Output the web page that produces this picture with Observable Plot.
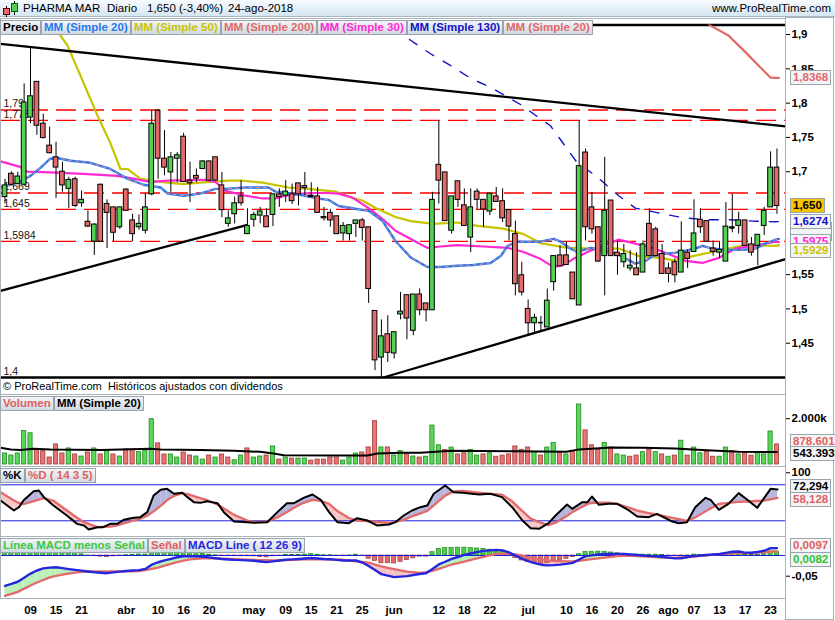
<!DOCTYPE html>
<html lang="es"><head><meta charset="utf-8"><title>PHARMA MAR</title>
<script src="https://cdn.jsdelivr.net/npm/d3@7"></script>
<script src="https://cdn.jsdelivr.net/npm/@observablehq/plot@0.6"></script>
<style>
html,body{margin:0;padding:0;background:#fff;}
#root{position:relative;width:835px;height:620px;overflow:hidden;background:#fff;font-family:"Liberation Sans",Arial,sans-serif;color:#000;}
#root svg{position:absolute;left:0;}
.hdr{position:absolute;left:0;top:0;width:835px;height:17px;background:linear-gradient(#f7fbfe,#d4e6f2);border-bottom:1px solid #a9b6c0;box-sizing:border-box;}
.ht{position:absolute;top:2px;font-size:11.5px;line-height:13px;white-space:pre;color:#000;}
.lg{position:absolute;height:15px;line-height:13px;font-weight:bold;font-size:11.5px;padding:0 2px;background:linear-gradient(#f2f5f8,#d2dae2);border:1px solid #9aa4ad;box-sizing:border-box;white-space:nowrap;}
.vb{position:absolute;left:790px;height:15px;line-height:13px;font-weight:bold;font-size:11.5px;padding:0 2px;background:#f3f4f5;border:1px solid #9aa4ad;box-sizing:border-box;white-space:nowrap;}
.frame{position:absolute;border:1px solid #a9b1b9;box-sizing:border-box;pointer-events:none;}
.cap{position:absolute;left:3px;top:380px;font-size:11px;white-space:pre;}
</style></head>
<body><div id="root"></div>
<script>
// ---------------- DATA ----------------
// trading days 5-mar-2018 .. 24-ago-2018, index 0..121
const open = [
1.663,1.697,1.682,1.681,1.779,1.831,1.770,1.738,1.721,1.700,
1.675,1.689,1.654,1.627,1.598,1.681,1.653,1.648,1.619,1.674,
1.629,1.619,1.614,1.667,1.789,1.719,1.699,1.719,1.751,1.687,
1.694,1.704,1.715,1.721,1.680,1.624,1.638,1.664,1.609,1.630,
1.636,1.635,1.637,1.667,1.665,1.667,1.683,1.679,1.665,1.664,
1.634,1.640,1.635,1.610,1.609,1.624,1.629,1.619,1.497,1.429,
1.463,1.435,1.492,1.520,1.468,1.521,1.508,1.498,1.710,1.699,
1.614,1.686,1.651,1.604,1.671,1.659,1.642,1.664,1.657,1.644,
1.609,1.549,1.500,1.479,1.480,1.473,1.539,1.578,1.578,1.553,
1.505,1.728,1.648,1.619,1.577,1.658,1.582,1.568,1.559,1.559,
1.553,1.624,1.616,1.580,1.559,1.568,1.553,1.582,1.583,1.630,
1.628,1.588,1.582,1.569,1.619,1.621,1.629,1.594,1.592,1.621,
1.648,1.706];
const high = [
1.689,1.700,1.699,1.828,1.881,1.831,1.784,1.765,1.743,1.714,
1.692,1.692,1.672,1.643,1.624,1.682,1.659,1.648,1.648,1.675,
1.638,1.637,1.668,1.789,1.790,1.760,1.728,1.728,1.756,1.714,
1.704,1.716,1.716,1.721,1.699,1.643,1.663,1.687,1.646,1.641,
1.648,1.646,1.667,1.675,1.687,1.682,1.683,1.699,1.684,1.677,
1.648,1.645,1.635,1.626,1.622,1.629,1.632,1.619,1.497,1.484,
1.490,1.466,1.524,1.520,1.521,1.529,1.508,1.670,1.774,1.699,
1.664,1.686,1.675,1.675,1.675,1.659,1.668,1.677,1.675,1.644,
1.628,1.568,1.513,1.492,1.489,1.529,1.577,1.592,1.598,1.553,
1.774,1.733,1.670,1.619,1.721,1.658,1.599,1.594,1.585,1.582,
1.599,1.646,1.619,1.594,1.567,1.573,1.627,1.586,1.659,1.646,
1.628,1.599,1.597,1.655,1.667,1.641,1.629,1.604,1.608,1.648,
1.729,1.733];
const low = [
1.653,1.680,1.681,1.679,1.770,1.753,1.748,1.726,1.661,1.670,
1.646,1.648,1.648,1.619,1.578,1.597,1.588,1.598,1.616,1.642,
1.598,1.615,1.609,1.665,1.689,1.694,1.670,1.684,1.684,1.655,
1.684,1.703,1.686,1.686,1.633,1.619,1.624,1.650,1.609,1.619,
1.624,1.619,1.620,1.648,1.655,1.652,1.650,1.665,1.664,1.640,
1.628,1.619,1.609,1.599,1.599,1.604,1.599,1.508,1.410,1.400,
1.422,1.427,1.484,1.455,1.461,1.490,1.481,1.498,1.653,1.628,
1.609,1.648,1.621,1.582,1.645,1.619,1.636,1.655,1.626,1.599,
1.519,1.519,1.461,1.465,1.468,1.473,1.526,1.562,1.564,1.514,
1.505,1.599,1.609,1.568,1.519,1.577,1.549,1.560,1.555,1.549,
1.553,1.577,1.577,1.551,1.538,1.538,1.553,1.559,1.583,1.610,
1.598,1.577,1.573,1.569,1.611,1.609,1.592,1.577,1.563,1.607,
1.648,1.638];
const close = [
1.680,1.681,1.693,1.801,1.810,1.767,1.749,1.727,1.706,1.680,
1.688,1.650,1.659,1.620,1.623,1.598,1.640,1.611,1.648,1.643,
1.609,1.624,1.648,1.770,1.719,1.706,1.721,1.724,1.685,1.683,
1.690,1.715,1.687,1.687,1.644,1.632,1.654,1.654,1.621,1.637,
1.642,1.619,1.667,1.663,1.671,1.657,1.667,1.676,1.664,1.640,
1.632,1.629,1.609,1.621,1.622,1.629,1.618,1.529,1.425,1.460,
1.436,1.466,1.496,1.486,1.521,1.498,1.498,1.659,1.687,1.628,
1.664,1.659,1.621,1.648,1.659,1.645,1.668,1.656,1.632,1.620,
1.536,1.524,1.479,1.487,1.480,1.512,1.577,1.562,1.564,1.514,
1.708,1.619,1.616,1.569,1.643,1.577,1.577,1.580,1.563,1.549,
1.594,1.577,1.577,1.551,1.551,1.549,1.585,1.573,1.610,1.619,
1.598,1.583,1.586,1.620,1.618,1.629,1.592,1.582,1.608,1.643,
1.706,1.650];
// volume in thousands of shares
const volume = [
481,393,481,1466,1363,657,584,305,878,481,
702,437,349,525,702,437,584,437,349,657,
657,540,584,1980,922,437,437,305,525,393,
349,216,393,305,437,305,187,393,702,305,
349,393,790,216,305,260,260,260,172,216,
216,305,305,172,305,481,525,746,1892,746,
746,393,584,437,349,305,340,1700,840,640,
740,440,490,640,390,440,490,340,390,440,
790,640,740,540,390,740,940,540,440,590,
2620,1490,840,640,940,740,440,390,340,390,
540,640,540,440,340,390,1040,390,740,490,
540,340,340,740,590,440,540,390,540,440,
1440,878.601];
const volMaDay = [-0.7,0.9,2.4,4.5,7.1,15,22.8,24.4,30.6,35.9,40,42.1,43.7,51.5,56.8,58.4,62,65.1,70,80,88,90,95,100,105,110,115,121];
const volMa    = [730,657,628,687,657,628,687,657,628,599,555,481,408,393,393,481,510,510,600,580,560,660,740,730,700,620,560,543.393];

// moving averages of price (sampled where read)
const ma20Day = [-0.7,2,4,5.6,7.1,8.2,10.3,13.4,16.5,19.2,21.7,24.4,25.5,28,30.6,33,34.6,37.7,41.3,42.4,45.1,47.1,49.1,50.7,52.3,54.9,57,59.2,61.2,63.6,66.2,68.3,70.9,73.4,76.1,77.7,78.8,80.3,83.9,86,87.1,88.6,89.7,91.8,93.7,96.2,98.8,100.4,101.5,103.1,105.1,106.7,108.2,109.3,110.9,112.9,115.6,117.6,119.2,120.8,121.3];
const ma20 = [1.677,1.684,1.694,1.706,1.719,1.720,1.716,1.713,1.704,1.690,1.681,1.677,1.668,1.665,1.668,1.675,1.675,1.677,1.677,1.671,1.668,1.665,1.661,1.659,1.650,1.646,1.643,1.628,1.599,1.575,1.561,1.561,1.563,1.564,1.567,1.577,1.592,1.598,1.598,1.602,1.598,1.588,1.583,1.589,1.585,1.579,1.566,1.570,1.577,1.580,1.582,1.585,1.588,1.592,1.588,1.586,1.586,1.588,1.595,1.601,1.602];
const ma30Day = [-0.7,2.4,3.5,7.1,12.3,17.6,20.1,22.8,25.5,30.6,31.4,33,34.6,37.7,40.4,42.4,44,46.6,48.2,50.7,52.3,54.5,57,59.2,61.2,63.6,66.2,68.3,70.9,75,78.8,81.3,83.9,86,87.5,89.1,91.8,93.7,96.2,98.8,101.5,104,106.7,109.3,111.8,114.5,117.2,120.8,121.3];
const ma30 = [1.715,1.707,1.700,1.699,1.697,1.694,1.690,1.685,1.687,1.688,1.688,1.685,1.672,1.665,1.661,1.661,1.665,1.668,1.669,1.669,1.668,1.662,1.647,1.631,1.614,1.602,1.589,1.591,1.593,1.591,1.589,1.583,1.573,1.561,1.564,1.573,1.585,1.592,1.601,1.595,1.589,1.580,1.570,1.567,1.574,1.588,1.592,1.598,1.5975];
const ma50Day = [7.6,8.7,9.8,14.5,16.5,18.1,19.2,21.2,22.8,25.5,28,30.6,35,37.2,40.4,44.4,47.6,51.8,53.4,56,58.1,61.2,63.6,67.2,70.9,74.1,78.1,81.3,83.9,88.2,91.8,96.2,99.3,103.1,105.1,107.8,110.9,113.4,116.1,120.8,121.3];
const ma50 = [1.925,1.8985,1.884,1.782,1.742,1.704,1.704,1.690,1.687,1.684,1.682,1.684,1.687,1.687,1.684,1.677,1.675,1.671,1.665,1.658,1.647,1.634,1.628,1.624,1.626,1.621,1.617,1.609,1.596,1.589,1.588,1.588,1.577,1.574,1.570,1.577,1.583,1.588,1.593,1.592,1.5929];
const ma130Day = [61.5,62.5,66.7,69.8,73,76.1,78.4,80.8,83.2,85.5,89.7,92.6,96.2,98.8,102.4,106.2,109.8,113.4,117.2,120.8,121.3];
const ma130 = [1.915,1.8985,1.872,1.855,1.836,1.823,1.811,1.798,1.782,1.767,1.713,1.694,1.665,1.647,1.640,1.633,1.630,1.630,1.628,1.627,1.6274];
const ma200Day = [108,110.6,113.4,116.1,118.1,120,121.3];
const ma200 = [1.935,1.913,1.8985,1.874,1.855,1.837,1.8368];

// support / resistance levels and trend lines
const levelValues = [1.79, 1.775, 1.669, 1.645, 1.5984];
const levelLabels = ["1,79", "1,775", "1,669", "1,645", "1,5984"];
const blackLevels = [1.4, 1.9139];
const blackLabels = ["1,4", ""];
const trendStartDay = [-0.705, -0.705, 59.3];
const trendStartPrice = [1.8864, 1.5263, 1.4];
const trendEndDay = [122.34, 38.0, 122.34];
const trendEndPrice = [1.7661, 1.6226, 1.5726];

// stochastic %K / %D (14 3 5)
const stochDay = [-0.7,1.4,2.2,2.9,4.5,5.3,6.1,7.6,9.7,11.3,12.4,13.1,14.5,15.4,16.5,17.6,18.6,20.2,21.2,22.3,23.3,24.4,25.4,26.5,27.8,28.6,29.6,30.6,31.7,33.3,34.3,35.9,38,39,41.1,42.7,44.2,45.3,46.8,48.2,49.5,50.8,52.1,53.9,55.2,56.8,58.3,60.2,61.2,62.5,63.8,65.1,66.2,67.2,69,70.3,71.7,74.3,76.1,77.9,79.5,81.1,82.4,83.7,85.2,86.3,88.1,88.9,90.5,91.3,92,93.1,94.6,96,97.8,99.1,100.9,102.2,104.6,105.6,106.9,108.2,109.8,110.6,111.9,113.4,115,116.3,117.9,118.9,120,121.1];
const stochK = [53.8,37.2,42.7,53.8,69.4,70.5,59.4,45.5,28.8,14.9,12.2,5.5,9.4,9.4,14.9,14.9,21.6,25,26.1,34.4,62.2,71.6,73.3,65,66.6,59.4,51.1,49.9,52.7,49.4,34.4,18.8,17.7,16.6,17.7,34.4,49.4,49.4,58.3,63.8,54.9,34.4,17.7,16,24.4,20.5,12.2,13.8,17.7,28.8,37.2,42.7,45.5,65,78.8,67.7,66.6,63.8,65,59.4,42.7,20.5,7.7,6.6,16,28.8,47.2,39.9,51.1,51.1,60.5,46.6,48.3,48.3,37.2,27.2,26.1,31.6,18.8,16,17.7,42.7,58.3,54.9,38.3,48.3,66.1,55.5,41.6,56.6,73.3,72.294];
const stochD = [67.7,53.8,49.7,47.8,52.7,55.2,57.7,53.4,37.2,25.0,17.7,14.9,9.4,9.8,10.2,12.2,15.6,20.5,23.3,28.6,35.7,44.9,54.6,61.5,65.9,64.5,61.1,57.8,54.3,47.1,40.5,29.9,20.4,17.7,18.6,25.5,34.8,41.9,50.0,54.8,53.2,48.3,36.2,24.7,20.3,19.6,18.1,16.5,18.1,21.6,27.5,32.5,36.5,45.7,62.0,68.9,69.9,67.1,64.8,63.5,52.5,36.1,23.7,17.9,12.9,16.9,28.5,34.4,43.6,48.2,49.7,50.4,50.2,47.8,42.2,36.9,32.8,30.1,25.0,22.8,20.0,25.7,35.7,40.5,48.3,49.9,51.4,52.2,53.1,53.6,55.6,58.128];
const stochBands = [80, 20];

// MACD (12 26 9), daily
const macd = [
-0.0733,-0.0686,-0.0634,-0.0535,-0.0436,-0.0362,-0.0311,-0.0294,-0.0284,-0.0306,
-0.0328,-0.0347,-0.0366,-0.0386,-0.0404,-0.0415,-0.0427,-0.0408,-0.0389,-0.0376,
-0.0364,-0.0354,-0.0326,-0.0222,-0.0163,-0.0116,-0.0081,-0.0043,-0.0022,-0.0018,
-0.0020,-0.0032,-0.0046,-0.0065,-0.0083,-0.0095,-0.0106,-0.0112,-0.0118,-0.0128,
-0.0144,-0.0160,-0.0141,-0.0120,-0.0102,-0.0093,-0.0084,-0.0072,-0.0061,-0.0071,
-0.0084,-0.0089,-0.0105,-0.0120,-0.0121,-0.0121,-0.0170,-0.0252,-0.0353,-0.0450,
-0.0487,-0.0522,-0.0510,-0.0499,-0.0472,-0.0446,-0.0430,-0.0328,-0.0216,-0.0151,
-0.0081,-0.0036,0.0014,0.0049,0.0080,0.0111,0.0123,0.0136,0.0125,0.0076,
0.0000,-0.0076,-0.0138,-0.0185,-0.0222,-0.0239,-0.0233,-0.0221,-0.0203,-0.0177,
-0.0097,-0.0016,0.0003,0.0027,0.0040,0.0040,0.0040,0.0036,0.0024,0.0011,
-0.0001,-0.0010,-0.0020,-0.0035,-0.0052,-0.0070,-0.0066,-0.0038,-0.0010,0.0001,
0.0013,0.0024,0.0036,0.0063,0.0090,0.0096,0.0069,0.0067,0.0089,0.0115,
0.0177,0.0179];
const signal = [
-0.0974,-0.0928,-0.0878,-0.0800,-0.0723,-0.0653,-0.0591,-0.0529,-0.0495,-0.0464,
-0.0437,-0.0416,-0.0395,-0.0387,-0.0387,-0.0387,-0.0387,-0.0387,-0.0387,-0.0384,
-0.0382,-0.0379,-0.0350,-0.0325,-0.0293,-0.0246,-0.0200,-0.0160,-0.0126,-0.0092,
-0.0080,-0.0071,-0.0066,-0.0071,-0.0077,-0.0082,-0.0087,-0.0093,-0.0099,-0.0105,
-0.0110,-0.0115,-0.0121,-0.0116,-0.0111,-0.0105,-0.0099,-0.0095,-0.0092,-0.0090,
-0.0091,-0.0095,-0.0099,-0.0103,-0.0124,-0.0141,-0.0155,-0.0174,-0.0218,-0.0262,
-0.0301,-0.0330,-0.0358,-0.0387,-0.0403,-0.0418,-0.0403,-0.0374,-0.0323,-0.0271,
-0.0218,-0.0186,-0.0147,-0.0108,-0.0070,-0.0032,0.0006,0.0040,0.0040,0.0040,
0.0028,-0.0003,-0.0037,-0.0068,-0.0094,-0.0120,-0.0129,-0.0136,-0.0142,-0.0143,
-0.0128,-0.0104,-0.0087,-0.0068,-0.0050,-0.0033,-0.0014,-0.0006,0.0000,-0.0012,
-0.0021,-0.0031,-0.0040,-0.0045,-0.0050,-0.0055,-0.0047,-0.0040,-0.0032,-0.0010,
0.0005,0.0022,0.0032,0.0043,0.0053,0.0056,0.0056,0.0056,0.0069,0.0083,
0.0097,0.0097];
const hist = [
0.0241,0.0242,0.0244,0.0265,0.0287,0.0291,0.0280,0.0235,0.0211,0.0158,
0.0109,0.0069,0.0029,0.0001,-0.0017,-0.0028,-0.0040,-0.0021,-0.0002,0.0008,
0.0018,0.0025,0.0024,0.0103,0.0130,0.0130,0.0119,0.0117,0.0104,0.0074,
0.0060,0.0039,0.0020,0.0006,-0.0006,-0.0013,-0.0019,-0.0019,-0.0019,-0.0023,
-0.0034,-0.0045,-0.0020,-0.0004,0.0009,0.0012,0.0015,0.0023,0.0031,0.0019,
0.0007,0.0006,-0.0006,-0.0017,0.0003,0.0020,-0.0015,-0.0078,-0.0135,-0.0188,
-0.0186,-0.0192,-0.0152,-0.0112,-0.0069,-0.0028,-0.0027,0.0080,0.0160,0.0180,
0.0180,0.0190,0.0190,0.0180,0.0170,0.0160,0.0140,0.0120,0.0090,0.0020,
-0.0060,-0.0120,-0.0160,-0.0190,-0.0200,-0.0180,-0.0150,-0.0110,-0.0080,-0.0040,
0.0031,0.0088,0.0090,0.0095,0.0090,0.0073,0.0054,0.0042,0.0024,0.0023,
0.0020,0.0021,0.0020,0.0010,-0.0002,-0.0015,-0.0019,0.0002,0.0022,0.0011,
0.0008,0.0002,0.0004,0.0020,0.0037,0.0040,0.0013,0.0011,0.0020,0.0032,
0.0080,0.0082];

// axes
const tickIdx = [4,8,12,19,24,28,32,39,44,48,52,56,61,68,72,76,82,88,92,96,100,104,108,112,116,120];
const tickLab = ["09","15","21","abr","10","16","20","may","09","15","21","25","jun","12","18","22","jul","10","16","20","26","ago","07","13","17","23"];
const priceTicks = [1.45,1.5,1.55,1.7,1.75,1.8,1.85,1.9];
const volTicks = [2000];
const stochTicks = [100];
const macdTicks = [-0.05];

// ---------------- DRAWING ----------------
const root = document.getElementById("root");
const FONT = '"Liberation Sans", Arial, sans-serif';
const W = 835, MR = 50;
const X = {domain: [-0.705, 122.34]};
const style = {background: "transparent", overflow: "visible", fontFamily: FONT, fontSize: "11.5px", fontWeight: "bold", color: "#000"};
const GREEN = "#52d152", RED = "#e46a6a";
const comma = (v, n) => v.toFixed(n).replace(".", ",");
const pts = (xs, ys) => xs.map((x, j) => ({x, y: ys[j]}));
const days = d3.range(open.length);
const candles = days.map(i => ({i, o: open[i], h: high[i], l: low[i], c: close[i]}));
const last = a => a[a.length - 1];

function diffSegs(xs, a, b) {
  const out = [];
  let z = 0;
  for (let j = 0; j < xs.length - 1; j++) {
    const x0 = xs[j], x1 = xs[j + 1], a0 = a[j], a1 = a[j + 1], b0 = b[j], b1 = b[j + 1];
    const d0 = a0 - b0, d1 = a1 - b1;
    if (d0 * d1 < 0) {
      const t = d0 / (d0 - d1), xm = x0 + t * (x1 - x0), ym = a0 + t * (a1 - a0);
      out.push({x: x0, a: a0, b: b0, z, pos: d0 > 0}, {x: xm, a: ym, b: ym, z, pos: d0 > 0}); z++;
      out.push({x: xm, a: ym, b: ym, z, pos: d1 > 0}, {x: x1, a: a1, b: b1, z, pos: d1 > 0}); z++;
    } else {
      const p = (d0 + d1) >= 0;
      out.push({x: x0, a: a0, b: b0, z, pos: p}, {x: x1, a: a1, b: b1, z, pos: p}); z++;
    }
  }
  return out;
}

// ---- price panel ----
const trend = trendStartDay.map((d, j) => ({x1: d, y1: trendStartPrice[j], x2: trendEndDay[j], y2: trendEndPrice[j]}));
const priceLab = new Map(priceTicks.map(t => [t, comma(t, Math.round(t * 100) % 10 === 0 ? 1 : 2)]));
const dojis = candles.filter(d => Math.abs(d.c - d.o) < 0.0015);
const price = Plot.plot({
  width: W, height: 360, marginLeft: 0, marginRight: MR, marginTop: 4.5, marginBottom: 3,
  x: {...X, axis: null}, y: {domain: [1.4, 1.9139]}, color: {type: "identity"}, style,
  marks: [
    Plot.ruleY(levelValues, {stroke: "#ff0000", strokeWidth: 1.3, strokeDasharray: "20,8"}),
    Plot.ruleY(blackLevels, {stroke: "#000", strokeWidth: 2.6}),
    Plot.text(levelValues.concat(blackLevels), {y: d => d, text: levelLabels.concat(blackLabels), frameAnchor: "left", textAnchor: "start", dx: 3, dy: -6, fontWeight: "normal", fontSize: 10.5, fill: "#111"}),
    Plot.line(pts(ma200Day, ma200), {x: "x", y: "y", stroke: "#e06868", strokeWidth: 2.2, clip: true}),
    Plot.line(pts(ma130Day, ma130), {x: "x", y: "y", stroke: "#1212c8", strokeWidth: 1.4, strokeDasharray: "9,11", clip: true}),
    Plot.line(pts(ma50Day, ma50), {x: "x", y: "y", stroke: "#c8c400", strokeWidth: 2.2, clip: true}),
    Plot.line(pts(ma30Day, ma30), {x: "x", y: "y", stroke: "#ff28d2", strokeWidth: 2.2, clip: true}),
    Plot.line(pts(ma20Day, ma20), {x: "x", y: "y", stroke: "#2878f0", strokeWidth: 2.4, clip: true}),
    Plot.line(pts(ma20Day, ma20), {x: "x", y: "y", stroke: "#f08a8a", strokeWidth: 1, strokeDasharray: "3,4", clip: true}),
    Plot.link(trend, {x1: "x1", y1: "y1", x2: "x2", y2: "y2", stroke: "#000", strokeWidth: 2.3}),
    Plot.ruleX(candles, {x: "i", y1: "l", y2: "h", stroke: "#000", strokeWidth: 1}),
    Plot.rect(candles, {x1: d => d.i - 0.37, x2: d => d.i + 0.37, y1: "o", y2: "c",
      fill: d => d.c > d.o ? GREEN : d.c < d.o ? RED : "#000", stroke: "#000", strokeWidth: 1}),
    Plot.ruleY(dojis, {y: "c", x1: d => d.i - 0.37, x2: d => d.i + 0.37, stroke: "#000", strokeWidth: 1.6}),
    Plot.axisY({anchor: "right", ticks: priceTicks, tickFormat: t => priceLab.get(t), tickSize: 4, tickPadding: 2, label: null})
  ]
});
price.style.top = "20px";
root.appendChild(price);

// ---- volume panel ----
const volRows = days.map(i => ({i, v: volume[i], up: i === 0 ? close[0] >= open[0] : close[i] >= close[i - 1]}));
const vol = Plot.plot({
  width: W, height: 71, marginLeft: 0, marginRight: MR, marginTop: 0, marginBottom: 2,
  x: {...X, axis: null}, y: {domain: [0, 3013]}, color: {type: "identity"}, style,
  marks: [
    Plot.rect(volRows, {x1: d => d.i - 0.33, x2: d => d.i + 0.33, y1: 0, y2: "v",
      fill: d => d.up ? "#5ad65a" : "#e87474", stroke: d => d.up ? "#1f8a1f" : "#a33a3a", strokeWidth: 0.8}),
    Plot.line(pts(volMaDay, volMa), {x: "x", y: "y", stroke: "#000", strokeWidth: 2}),
    Plot.axisY({anchor: "right", ticks: volTicks, tickFormat: t => (t / 1000).toFixed(3) + "k", tickSize: 4, tickPadding: 2, label: null})
  ]
});
vol.style.top = "395px";
root.appendChild(vol);

// ---- stochastic panel ----
const stRows = stochDay.map((x, j) => ({x, K: stochK[j], D: stochD[j]}));
const stoch = Plot.plot({
  width: W, height: 68, marginLeft: 0, marginRight: MR, marginTop: 5.3, marginBottom: 2.7,
  x: {...X, axis: null}, y: {domain: [0, 100]}, color: {type: "identity"}, style,
  marks: [
    Plot.areaY(diffSegs(stochDay, stochK, stochD), {x: "x", y1: "a", y2: "b", z: "z", fill: d => d.pos ? "#b6b6dd" : "#f6c6c6"}),
    Plot.ruleY(stochBands, {stroke: "#1c1ce0", strokeWidth: 1}),
    Plot.line(stRows, {x: "x", y: "D", stroke: "#e26a6a", strokeWidth: 2.3}),
    Plot.line(stRows, {x: "x", y: "K", stroke: "#000", strokeWidth: 2}),
    Plot.axisY({anchor: "right", ticks: stochTicks, tickSize: 4, tickPadding: 2, label: null})
  ]
});
stoch.style.top = "467px";
root.appendChild(stoch);

// ---- MACD panel + time axis ----
const mRows = days.map(i => ({i, m: macd[i], s: signal[i], h: hist[i]}));
const labOf = new Map(tickIdx.map((t, j) => [t, tickLab[j]]));
const mac = Plot.plot({
  width: W, height: 83, marginLeft: 0, marginRight: MR, marginTop: 0, marginBottom: 22,
  x: X, y: {domain: [-0.10386, 0.04348]}, color: {type: "identity"}, style,
  marks: [
    Plot.areaY(diffSegs(days, macd, signal), {x: "x", y1: "a", y2: "b", z: "z", fill: d => d.pos ? "#b9f0b9" : "#f6c4c4"}),
    Plot.rect(mRows, {x1: d => d.i - 0.33, x2: d => d.i + 0.33, y1: 0, y2: "h",
      fill: d => d.h >= 0 ? "#4ccf4c" : "#e06a6a", stroke: d => d.h >= 0 ? "#1f8a1f" : "#a33a3a", strokeWidth: 0.7}),
    Plot.ruleY([0], {stroke: "#1c1ce0", strokeWidth: 1}),
    Plot.line(mRows, {x: "i", y: "s", stroke: "#e26a6a", strokeWidth: 2.3}),
    Plot.line(mRows, {x: "i", y: "m", stroke: "#2626dc", strokeWidth: 2.4}),
    Plot.axisY({anchor: "right", ticks: macdTicks, tickFormat: t => comma(t, 2), tickSize: 4, tickPadding: 2, label: null}),
    Plot.axisX({anchor: "bottom", ticks: tickIdx, tickFormat: t => labOf.get(t), tickSize: 0, tickPadding: 7, label: null})
  ]
});
mac.style.top = "537px";
root.appendChild(mac);

// ---------------- HTML overlays ----------------
function el(cls, css, text) {
  const d = document.createElement("div");
  if (cls) d.className = cls;
  Object.assign(d.style, css);
  if (text != null) d.textContent = text;
  root.appendChild(d);
  return d;
}
// header
el("hdr", {});
el(null, {position: "absolute", left: "6px", top: "6px", width: "1px", height: "11px", background: "#000"});
el(null, {position: "absolute", left: "3px", top: "8px", width: "7px", height: "7px", background: "#e46a6a", border: "1px solid #600", boxSizing: "border-box"});
el(null, {position: "absolute", left: "14px", top: "1px", width: "1px", height: "14px", background: "#000"});
el(null, {position: "absolute", left: "11px", top: "3px", width: "7px", height: "9px", background: "#52d152", border: "1px solid #060", boxSizing: "border-box"});
el("ht", {left: "23px"}, "PHARMA MAR");
el("ht", {left: "107px"}, "Diario");
el("ht", {left: "147px"}, "1,650 (-3,40%)");
el("ht", {left: "228px"}, "24-ago-2018");
el("ht", {right: "4px", fontSize: "11.5px"}, "www.ProRealTime.com");

// frames
el("frame", {left: "0px", top: "18px", width: "786px", height: "377px"});
el("frame", {left: "0px", top: "394px", width: "786px", height: "73px"});
el("frame", {left: "0px", top: "466px", width: "786px", height: "71px"});
el("frame", {left: "0px", top: "536px", width: "786px", height: "63px"});
el("frame", {left: "785px", top: "17px", width: "49px", height: "603px"});

// caption
el("cap", {}, "\u00A9 ProRealTime.com  Hist\u00F3ricos ajustados con dividendos");

// legends
function legendRow(top, items) {
  let x = 0;
  for (const [text, color] of items) {
    const d = el("lg", {left: x + "px", top: top + "px", color}, text);
    x += d.offsetWidth;
  }
}
legendRow(19.5, [["Precio", "#000"], ["MM (Simple 20)", "#2878f0"], ["MM (Simple 50)", "#c8c400"], ["MM (Simple 200)", "#e06868"],
  ["MM (Simple 30)", "#ff28d2"], ["MM (Simple 130)", "#1212c8"], ["MM (Simple 20)", "#e06868"]]);
legendRow(396, [["Volumen", "#e06060"], ["MM (Simple 20)", "#000"]]);
legendRow(468, [["%K", "#000"], ["%D ( 14 3 5)", "#e06060"]]);
legendRow(538, [["L\u00EDnea MACD menos Se\u00F1al", "#3cc83c"], ["Se\u00F1al", "#e06060"], ["MACD Line ( 12 26 9)", "#2626dc"]]);

// value boxes on the right, placed with the charts' own y scales
const py = v => price.scale("y").apply(v) + 20;
const vy = v => vol.scale("y").apply(v) + 395;
const sy = v => stoch.scale("y").apply(v) + 467;
const my = v => mac.scale("y").apply(v) + 537;
function vbox(text, color, bg, yPage) {
  return el("vb", {top: (yPage - 7.5) + "px", color, background: bg}, text);
}
const volFmt = d3.formatLocale({decimal: ",", thousands: ".", grouping: [3]}).format(",d");
vbox(comma(last(ma200), 4), "#e06868", "#f3f4f5", py(last(ma200)));
vbox(comma(last(close), 3), "#000", "#f8c400", py(last(close)));
// MM (Simple 20) labels sit hidden behind the others: only their edges show
const s1 = vbox("", "#2878f0", "#f3f4f5", py(last(ma20)) - 9); s1.style.width = "42px";
const s2 = vbox("", "#e06868", "#f3f4f5", py(last(ma20)) - 5); s2.style.width = "42px";
vbox(comma(last(ma130), 4), "#1212c8", "#f3f4f5", py(last(ma130)));
vbox(comma(last(ma30), 4), "#ff28d2", "#f3f4f5", py(last(ma30)));
vbox(comma(last(ma50), 4), "#c8c400", "#f3f4f5", py(last(ma50)) + 5.5);
vbox(volFmt(Math.round(last(volume) * 1000)), "#e06060", "#f3f4f5", vy(last(volume)) - 2.5);
vbox(volFmt(Math.round(last(volMa) * 1000)), "#000", "#f3f4f5", vy(last(volMa)) + 2);
vbox(comma(last(stochK), 3), "#000", "#f3f4f5", sy(last(stochK)) - 2);
vbox(comma(last(stochD), 3), "#e06060", "#f3f4f5", sy(last(stochD)) + 2);
vbox(comma(last(signal), 4), "#e06060", "#f3f4f5", my(last(signal)) - 5.5);
vbox(comma(last(hist), 4), "#30c030", "#f3f4f5", my(last(hist)) + 7.5);
</script></body></html>
